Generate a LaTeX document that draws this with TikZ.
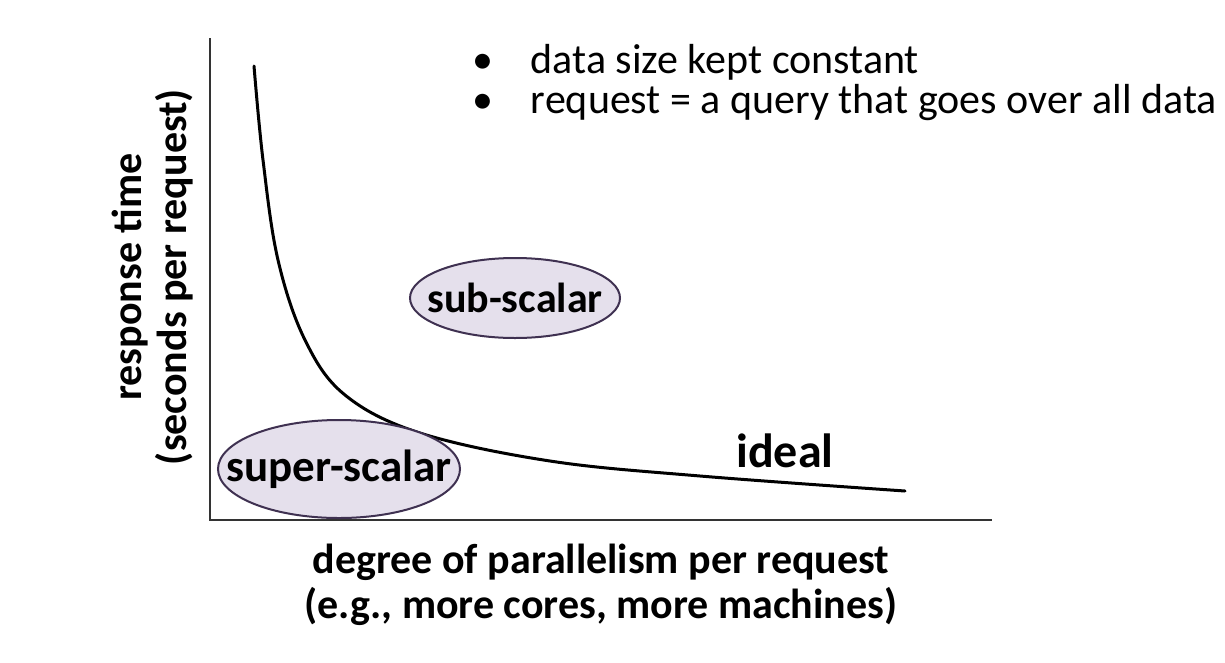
\documentclass[tikz,border=0pt]{standalone}
\usepackage{fontspec}
\setmainfont{Carlito}
\usetikzlibrary{shapes.geometric}
\definecolor{regionfill}{HTML}{E5E0EC}
\definecolor{regiondraw}{HTML}{3F3151}
\newcommand{\regiontext}[1]{\makebox[0pt]{#1}}
\begin{document}
\begin{tikzpicture}[x=1pt, y=-1pt,
    region/.style={ellipse, draw=regiondraw, line width=2pt, fill=regionfill, inner sep=0pt, font=\fontsize{42}{48}\selectfont\bfseries},
    axislabel/.style={align=center, font=\fontsize{42}{45}\selectfont\bfseries},
    axisline/.style={line width=1.3pt, draw=black!80},
    ]
    \useasboundingbox (0,0) rectangle (1225,662);

    % axes
    \coordinate (origin) at (210,520);
    \coordinate (ytop) at (210,38);
    \coordinate (xend) at (992,520);
    \draw[axisline] (ytop) -- (origin) -- (xend);

    % axis labels
    \node[axislabel, rotate=90] (ylab) at (153,277) {response time\\(seconds per request)};
    \node[axislabel] (xlab) at (601,585) {degree of parallelism per request\\(e.g., more cores, more machines)};

    % ideal curve
    \draw[line width=3pt, line cap=round] plot[smooth, tension=0.6] coordinates {(254,66) (263,160) (278,260) (305,340) (345,395) (420,433) (550,461) (700,476) (905,491)};
    \node[font=\fontsize{48}{52}\selectfont\bfseries] (ideal) at (785,451) {ideal};

    % regions
    \node[region, minimum width=210, minimum height=80] (sub) at (515,298) {\regiontext{sub-scalar}};
    \node[region, minimum width=242, minimum height=98, font=\fontsize{45}{50}\selectfont\bfseries] (super) at (339,469) {\regiontext{super-scalar}};

    % notes
    \node[anchor=north west, align=left, inner sep=0pt, font=\fontsize{42}{40}\selectfont] (notes) at (472,44)
        {\textbullet\hspace{0.9em}data size kept constant\\\textbullet\hspace{0.9em}request = a query that goes over all data};
\end{tikzpicture}
\end{document}
